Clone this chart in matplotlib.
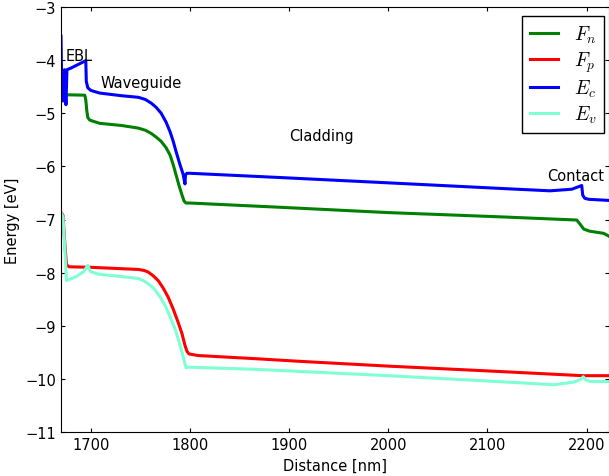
import matplotlib
matplotlib.use("Agg")
import matplotlib.pyplot as plt

matplotlib.rcParams['mathtext.fontset'] = 'cm'
matplotlib.rcParams['font.size'] = 10.5

# Band diagram values (distance in nm, energy in eV)
x_fn = [1670, 1694, 1695, 1696, 1697, 1699, 1709, 1731, 1748, 1755, 1761, 1766, 1771,
        1776, 1780, 1783, 1786, 1789, 1792, 1794, 1796, 1800, 1891, 2000, 2113, 2190,
        2193, 2197, 2203, 2217, 2222]
fn = [-4.65, -4.66, -4.75, -4.95, -5.08, -5.13, -5.19, -5.23, -5.28, -5.32, -5.38, -5.45, -5.53,
      -5.65, -5.79, -5.96, -6.16, -6.36, -6.54, -6.65, -6.69, -6.69, -6.77, -6.87, -6.95, -7.01,
      -7.08, -7.18, -7.22, -7.26, -7.31]

x_fp = [1670, 1672, 1674, 1675.5, 1678, 1700, 1748, 1754, 1758, 1763, 1768, 1773, 1778,
        1783, 1788, 1792, 1795, 1797, 1799, 1808, 1866, 1911, 2000, 2100, 2196, 2222]
fp = [-6.87, -6.92, -7.5, -7.85, -7.89, -7.9, -7.94, -7.96, -7.99, -8.06, -8.15, -8.29, -8.46,
      -8.68, -8.93, -9.15, -9.37, -9.48, -9.53, -9.56, -9.62, -9.67, -9.76, -9.85, -9.94, -9.94]

x_ec = [1670, 1670.5, 1672, 1673.5, 1675, 1676, 1680, 1695, 1695.5, 1697, 1700, 1709,
        1731, 1748, 1755, 1761, 1766, 1771, 1776, 1780, 1783, 1786, 1790, 1793, 1795,
        1795.5, 1797, 1800, 1891, 2000, 2113, 2163, 2185, 2195, 2196, 2198, 2202, 2222]
ec = [-3.55, -4.2, -4.77, -4.18, -4.84, -4.18, -4.15, -4.01, -4.4, -4.52, -4.57, -4.62,
      -4.67, -4.70, -4.74, -4.81, -4.89, -5.0, -5.17, -5.35, -5.52, -5.72, -5.97, -6.14, -6.33,
      -6.16, -6.13, -6.13, -6.21, -6.31, -6.415, -6.46, -6.43, -6.36, -6.54, -6.6, -6.62, -6.64]

x_ev = [1670, 1672, 1674, 1675.5, 1685, 1693, 1697, 1699.5, 1708, 1724, 1748, 1754,
        1758, 1762, 1765, 1770, 1775, 1780, 1785, 1789, 1792, 1794.5, 1796, 1798, 1866,
        1911, 2000, 2100, 2167, 2187, 2194, 2196.6, 2199, 2204, 2222]
ev = [-6.87, -6.95, -7.6, -8.15, -8.08, -7.98, -7.86, -7.98, -8.03, -8.06, -8.11, -8.16,
      -8.21, -8.27, -8.33, -8.46, -8.62, -8.83, -9.06, -9.3, -9.5, -9.68, -9.79, -9.78, -9.82,
      -9.86, -9.94, -10.04, -10.11, -10.06, -10.01, -9.96, -10.02, -10.05, -10.05]

regions = ['EBL', 'Waveguide', 'Cladding', 'Contact']
region_x = [1675, 1710, 1900, 2160]
region_y = [-4.0, -4.5, -5.5, -6.25]

fig = plt.figure(figsize=(6.09, 4.77), dpi=100)
ax = fig.add_axes([61/609, 1-433/477, 547.5/609, 425/477])

ax.plot(x_fn, fn, color='g', lw=2.2, label=r'$F_n$')
ax.plot(x_fp, fp, color='r', lw=2.2, label=r'$F_p$')
ax.plot(x_ec, ec, color='b', lw=2.2, label=r'$E_c$')
ax.plot(x_ev, ev, color='aquamarine', lw=2.2, label=r'$E_v$')

for name, tx, ty in zip(regions, region_x, region_y):
    ax.text(tx, ty, name, fontsize=10.5)

ax.set_xlim(1670, 2222)
ax.set_ylim(-11, -3)
ax.set_xticks([1700, 1800, 1900, 2000, 2100, 2200])
ax.tick_params(direction='in', length=3, top=True, right=True, labelsize=10.5)
ax.set_xlabel('Distance [nm]', fontsize=10.5)
ax.set_ylabel('Energy [eV]', fontsize=10.5)

leg = ax.legend(loc='upper right', bbox_to_anchor=(0.992, 0.979), fontsize=14,
                fancybox=False, framealpha=1, edgecolor='k', handlelength=1.45,
                labelspacing=0.22, borderaxespad=0.0)
leg.get_frame().set_linewidth(1.0)

fig.savefig('out.png', dpi=100)
